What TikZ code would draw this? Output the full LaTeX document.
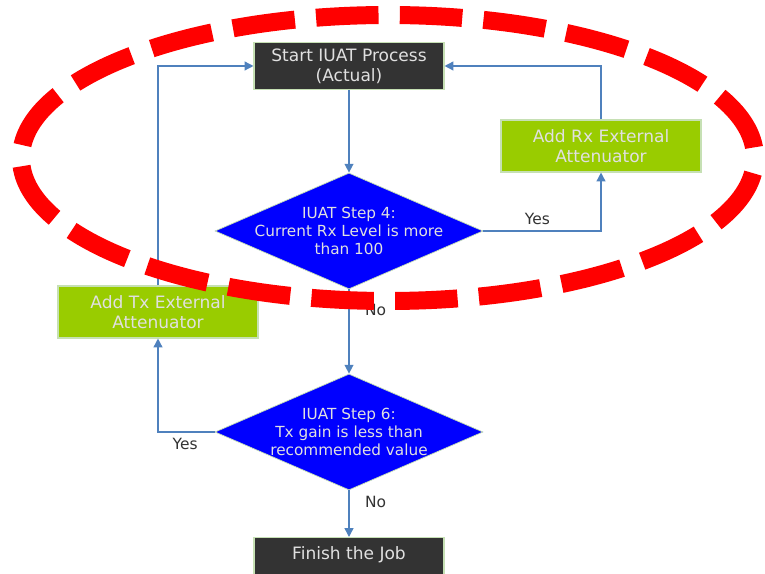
\documentclass[tikz,border=0pt]{standalone}
\usepackage{fontspec}
\setmainfont{DejaVu Sans}
\usepackage{xcolor}
\usepackage{tikz}
\usetikzlibrary{shapes.geometric, arrows.meta}

\definecolor{boxdark}{HTML}{333333}
\definecolor{boxgreen}{HTML}{99CC00}
\definecolor{decblue}{HTML}{0000FF}
\definecolor{flowline}{HTML}{4F81BD}
\definecolor{boxedge}{HTML}{C6E0B4}
\definecolor{labelgray}{HTML}{333333}

\begin{document}
\begin{tikzpicture}[
  >={Triangle[length=5pt,width=5pt]},
  darkbox/.style={rectangle, fill=boxdark, draw=boxedge, line width=0.6pt, text=white!88!black,
    minimum width=3.8cm, minimum height=0.92cm, align=center, font=\fontsize{9.7}{11.5}\selectfont},
  greenbox/.style={darkbox, fill=boxgreen, minimum width=4cm, minimum height=1.04cm},
  decision/.style={diamond, fill=decblue, draw=boxedge, line width=0.4pt,
    minimum width=5.36cm, minimum height=2.32cm, inner sep=0pt},
  dectext/.style={text=white!88!black, align=center, font=\fontsize{8.7}{10.3}\selectfont},
  flow/.style={->, draw=flowline, line width=0.8pt},
  answer/.style={text=labelgray, font=\fontsize{8.8}{10.5}\selectfont}
]
\useasboundingbox (0,0) rectangle (15.3,11.46);

% Process boxes
\node[darkbox] (start) at (6.98,10.14) {Start IUAT Process\\(Actual)};
\node[greenbox] (addrx) at (12.02,8.54) {Add Rx External\\Attenuator};
\node[greenbox] (addtx) at (3.16,5.22) {Add Tx External\\Attenuator};
\node[darkbox, anchor=north, minimum height=0pt, inner ysep=0.1cm,
  text height=0.34cm, text depth=0.6cm] (finish) at (6.98,0.72) {Finish the Job};

% Decisions
\node[decision, label={[dectext]center:{IUAT Step 4:\\Current Rx Level is more\\than 100}}] (step4) at (6.98,6.84) {};
\node[decision, label={[dectext]center:{IUAT Step 6:\\Tx gain is less than\\recommended value}}] (step6) at (6.98,2.82) {};

% Flow
\draw[flow] (start.south) -- (step4.north);
\draw[flow] (step4.east) -| node[answer, pos=0.23, above] {Yes} (addrx.south);
\draw[flow] (addrx.north) |- (start.east);
\draw[flow] (step4.south) -- node[answer, pos=0.25, right=0.19cm] {No} (step6.north);
\draw[flow] (step6.west) -| node[answer, pos=0.26, below] {Yes} (addtx.south);
\draw[flow] (addtx.north) |- (start.west);
\draw[flow] (step6.south) -- node[answer, pos=0.25, right=0.19cm] {No} (finish.north);

% Highlight round the Rx loop
\draw[red, line width=0.36cm, dash pattern=on 1.25cm off 0.426cm, dash phase=1.463cm]
  (7.76,8.3) ellipse (7.34cm and 2.86cm);
\end{tikzpicture}
\end{document}
